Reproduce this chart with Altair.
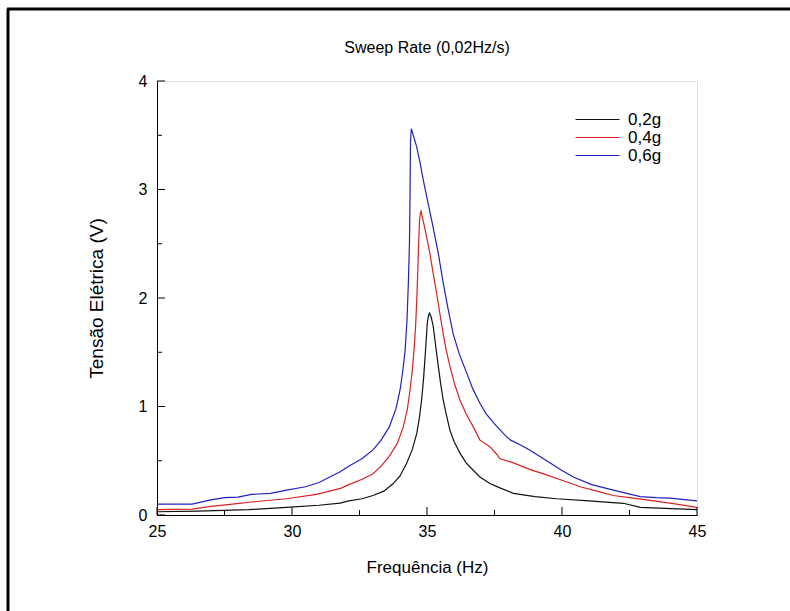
import altair as alt
import pandas as pd

title_text = ["Sweep Rate (0,02Hz/s)"]
series = ["0,2g", "0,4g", "0,6g"]
colors = ["#111111", "#dc2020", "#2020c4"]

f_02 = [25.0, 26.5, 28.4, 29.8, 31.0, 31.78, 32.1, 32.6, 33.0, 33.4, 33.75, 34.0, 34.25,
        34.45, 34.62, 34.72, 34.8, 34.87, 34.93, 34.98, 35.01, 35.05, 35.09, 35.15, 35.23,
        35.32, 35.42, 35.5, 35.6, 35.72, 35.85, 36.0, 36.22, 36.45, 36.72, 36.96, 37.33,
        37.7, 38.2, 39.0, 39.8, 41.0, 42.27, 42.9, 44.75, 45.0]
v_02 = [0.03, 0.035, 0.05, 0.07, 0.09, 0.11, 0.13, 0.15, 0.18, 0.22, 0.29, 0.36, 0.48,
        0.60, 0.75, 0.90, 1.06, 1.25, 1.46, 1.65, 1.77, 1.83, 1.86, 1.83, 1.74,
        1.56, 1.37, 1.22, 1.06, 0.92, 0.78, 0.68, 0.57, 0.48, 0.41, 0.35, 0.29,
        0.25, 0.20, 0.17, 0.15, 0.13, 0.108, 0.07, 0.052, 0.05]

f_04 = [25.0, 26.3, 27.0, 27.8, 28.5, 29.8, 30.9, 31.8, 32.1, 32.6, 33.0, 33.3, 33.6,
        33.9, 34.12, 34.27, 34.37, 34.45, 34.52, 34.58, 34.62, 34.66, 34.69, 34.72, 34.75,
        34.78, 34.85, 34.93, 35.1, 35.22, 35.36, 35.48, 35.6, 35.72, 35.85, 36.03, 36.22,
        36.45, 36.72, 36.96, 37.33, 37.58, 37.7, 38.2, 38.8, 39.43, 40.0, 40.67, 41.3,
        41.9, 42.5, 43.14, 44.0, 45.0]
v_04 = [0.05, 0.055, 0.08, 0.10, 0.12, 0.15, 0.19, 0.245, 0.28, 0.33, 0.38, 0.45, 0.54,
        0.66, 0.81, 0.97, 1.15, 1.32, 1.52, 1.75, 1.98, 2.25, 2.50, 2.70, 2.78,
        2.80, 2.72, 2.63, 2.42, 2.24, 2.04, 1.85, 1.67, 1.51, 1.37, 1.20, 1.06,
        0.93, 0.81, 0.69, 0.63, 0.56, 0.52, 0.48, 0.42, 0.37, 0.32, 0.26, 0.22,
        0.18, 0.16, 0.14, 0.11, 0.07]

f_06 = [25.0, 26.3, 27.0, 27.5, 28.0, 28.5, 29.2, 29.8, 30.5, 31.0, 31.8, 32.1, 32.6,
        33.0, 33.3, 33.6, 33.85, 34.0, 34.1, 34.19, 34.26, 34.31, 34.35, 34.37, 34.38,
        34.39, 34.42, 34.47, 34.55, 34.62, 34.74, 34.86, 35.0, 35.17, 35.3, 35.42, 35.6,
        35.78, 35.97, 36.2, 36.47, 36.7, 36.96, 37.2, 37.5, 37.95, 38.1, 38.5, 38.8,
        39.3, 39.68, 40.0, 40.42, 41.1, 41.9, 42.9, 43.5, 44.0, 45.0]
v_06 = [0.10, 0.10, 0.14, 0.16, 0.165, 0.19, 0.20, 0.23, 0.26, 0.30, 0.40, 0.45, 0.52,
        0.60, 0.69, 0.81, 0.98, 1.15, 1.32, 1.52, 1.80, 2.14, 2.50, 2.90, 3.20,
        3.45, 3.56, 3.52, 3.45, 3.39, 3.25, 3.09, 2.92, 2.72, 2.56, 2.41, 2.14,
        1.90, 1.67, 1.48, 1.31, 1.16, 1.03, 0.93, 0.84, 0.72, 0.69, 0.64, 0.60,
        0.52, 0.46, 0.41, 0.35, 0.28, 0.23, 0.17, 0.16, 0.155, 0.13]

x_major = [25, 30, 35, 40, 45]
x_minor = [27.5, 32.5, 37.5, 42.5]
y_major = [0, 1, 2, 3, 4]
y_minor = [0.5, 1.5, 2.5, 3.5]

rows = []
for s, fs, vs in zip(series, [f_02, f_04, f_06], [v_02, v_04, v_06]):
    for fx, vy in zip(fs, vs):
        rows.append({"serie": s, "f": fx, "v": vy})
df = pd.DataFrame(rows)

W, H = 540, 434
FONT = "Liberation Sans"
xs = alt.Scale(domain=[25, 45], nice=False, zero=False)
ys = alt.Scale(domain=[0, 4], nice=False)

x_axis = alt.Axis(
    title="Frequência (Hz)", values=x_major, ticks=False, grid=False,
    labelPadding=8, titlePadding=20, labelFontSize=16, titleFontSize=17,
    labelFont=FONT, titleFont=FONT, titleFontWeight="normal",
    labelColor="black", titleColor="black", domainColor="black",
    labelFlush=False)
y_axis = alt.Axis(
    title="Tensão Elétrica (V)", values=y_major, ticks=False, grid=False,
    labelPadding=10, titlePadding=32, labelFontSize=16, titleFontSize=19,
    labelFont=FONT, titleFont=FONT, titleFontWeight="normal",
    labelColor="black", titleColor="black", domainColor="black",
    labelFlush=False)

lines = alt.Chart(df).mark_line(strokeWidth=1.2, clip=True).encode(
    x=alt.X("f:Q", scale=xs, axis=x_axis),
    y=alt.Y("v:Q", scale=ys, axis=y_axis),
    color=alt.Color("serie:N", scale=alt.Scale(domain=series, range=colors),
                    legend=alt.Legend(
                        title=None, orient="none", legendX=432, legendY=30,
                        symbolType="M-4,0H4", symbolSize=121, symbolStrokeWidth=1,
                        labelOffset=22, labelFontSize=17, labelFont=FONT,
                        labelColor="black", rowPadding=0, padding=0)),
    order="f:Q",
)

xt_major = alt.Chart(pd.DataFrame({"f": x_major})).mark_rule(color="black").encode(
    x=alt.X("f:Q", scale=xs, axis=x_axis), y=alt.value(H), y2=alt.value(H - 8))
xt_minor = alt.Chart(pd.DataFrame({"f": x_minor})).mark_rule(color="black").encode(
    x=alt.X("f:Q", scale=xs, axis=x_axis), y=alt.value(H), y2=alt.value(H - 5))
yt_major = alt.Chart(pd.DataFrame({"v": y_major})).mark_rule(color="black").encode(
    y=alt.Y("v:Q", scale=ys, axis=y_axis), x=alt.value(0), x2=alt.value(8))
yt_minor = alt.Chart(pd.DataFrame({"v": y_minor})).mark_rule(color="black").encode(
    y=alt.Y("v:Q", scale=ys, axis=y_axis), x=alt.value(0), x2=alt.value(5))

title_mark = alt.Chart(pd.DataFrame({"t": title_text})).mark_text(
    font=FONT, fontSize=16, color="black", align="center", baseline="middle"
).encode(text="t:N", x=alt.value(W / 2), y=alt.value(-33))

frame_data = alt.Chart(pd.DataFrame({"k": [0]}))
frame_left = frame_data.mark_rule(color="black", strokeWidth=3, clip=False).encode(
    x=alt.value(-149), y=alt.value(-72), y2=alt.value(611 - 81))
frame_top = frame_data.mark_rule(color="black", strokeWidth=3, clip=False).encode(
    x=alt.value(-150), x2=alt.value(790 - 157), y=alt.value(-72))

chart = alt.layer(
    lines, xt_major, xt_minor, yt_major, yt_minor, title_mark, frame_left, frame_top
).properties(
    width=W, height=H,
    autosize=alt.AutoSizeParams(type="none"),
    padding={"left": 157, "top": 81, "right": 93, "bottom": 96},
).configure_view(stroke="black", strokeWidth=1.2).configure(background="white")

chart.save("out.html", embed_options={"renderer": "svg", "actions": False})
